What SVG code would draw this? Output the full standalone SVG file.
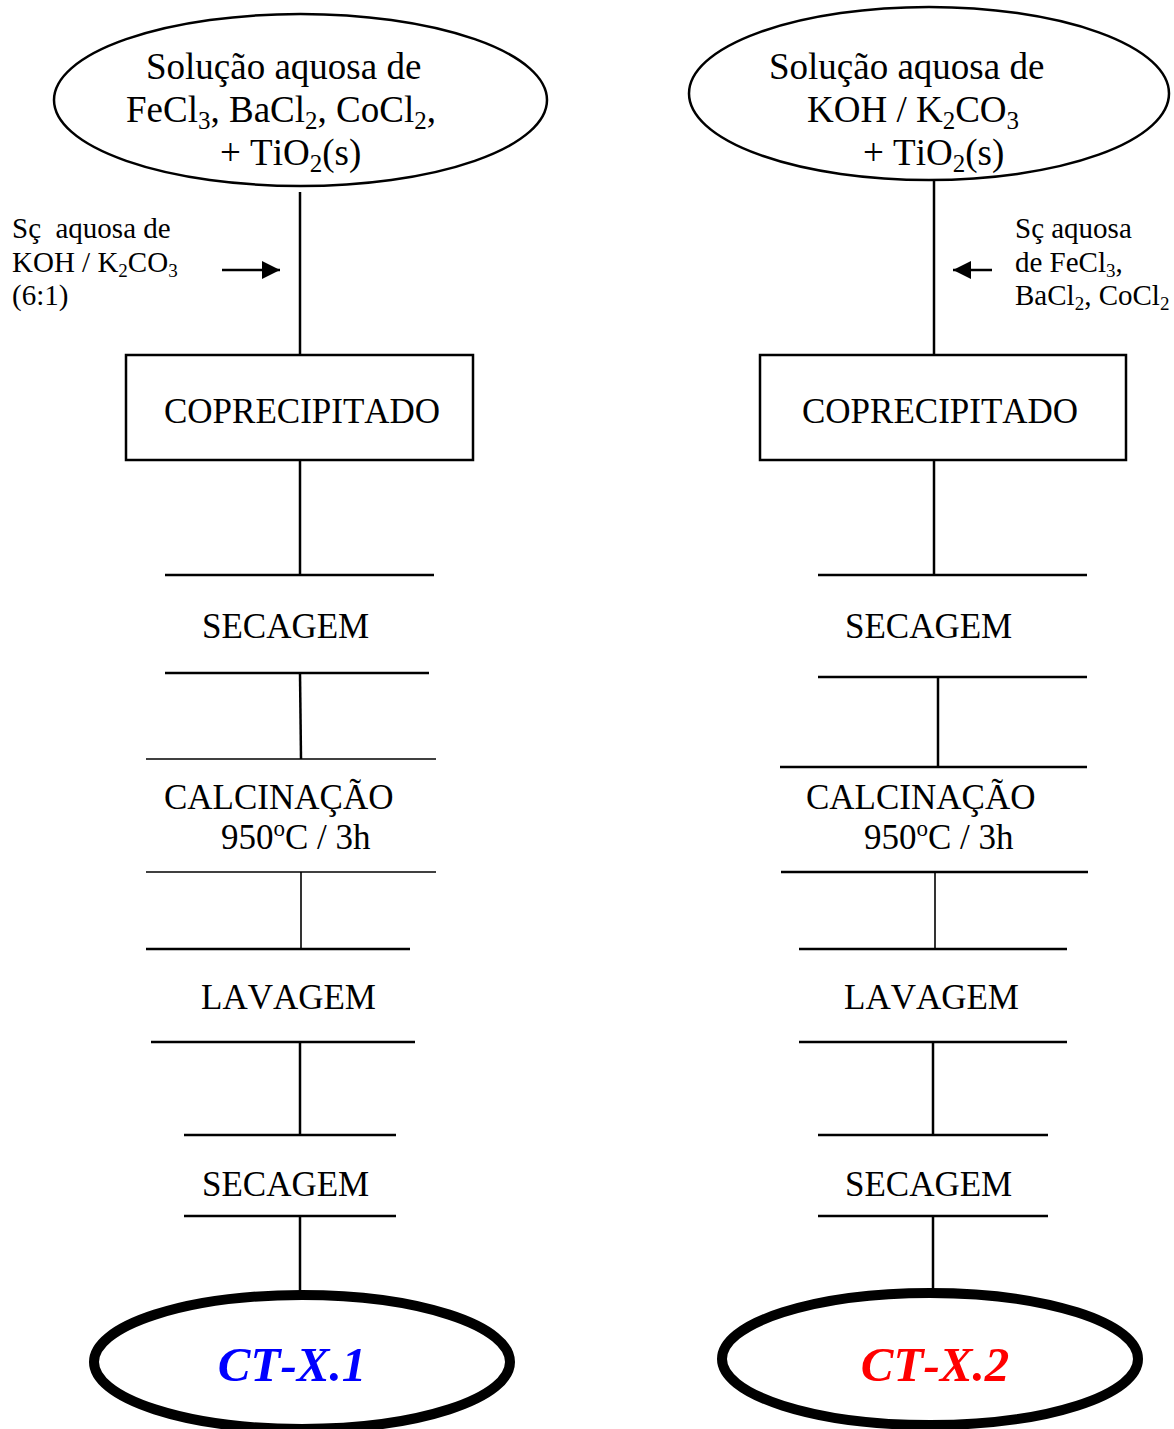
<svg xmlns="http://www.w3.org/2000/svg" width="1174" height="1429" viewBox="0 0 1174 1429">
<style>
text{font-family:"Liberation Serif","Times New Roman",serif;fill:#000;font-kerning:none}
.m{font-size:35px}
.t{font-size:37px}
.s{font-size:29px}
.sub{font-size:23px}
.tsub{font-size:25px}
.ssub{font-size:19px}
.res{font-size:49px;font-weight:bold;font-style:italic}
.ln{stroke:#000;stroke-width:2.5;fill:none}
.th{stroke:#000;stroke-width:1.6;fill:none}
.el{stroke:#000;stroke-width:2.5;fill:#fff}
.fin{stroke:#000;stroke-width:10;fill:#fff}
.box{stroke:#000;stroke-width:2.5;fill:#fff}
</style>
<defs>
<marker id="ah" viewBox="0 0 10 10" refX="10" refY="5" markerWidth="18" markerHeight="18" markerUnits="userSpaceOnUse" orient="auto">
<path d="M0,0 L10,5 L0,10 z" fill="#000"/>
</marker>
</defs>

<g id="connectors">
<line class="ln" x1="300" y1="192" x2="300" y2="355"/>
<line class="ln" x1="300" y1="460" x2="300" y2="575"/>
<line class="ln" x1="300" y1="673" x2="301" y2="759"/>
<line class="th" x1="301" y1="872" x2="301" y2="949"/>
<line class="ln" x1="300" y1="1042" x2="300" y2="1135"/>
<line class="ln" x1="300" y1="1216" x2="300" y2="1293"/>
<line class="ln" x1="222" y1="270" x2="280" y2="270" marker-end="url(#ah)"/>

<line class="ln" x1="934" y1="180" x2="934" y2="355"/>
<line class="ln" x1="934" y1="460" x2="934" y2="575"/>
<line class="ln" x1="938" y1="677" x2="938" y2="767"/>
<line class="th" x1="935" y1="872" x2="935" y2="949"/>
<line class="ln" x1="933" y1="1042" x2="933" y2="1135"/>
<line class="ln" x1="933" y1="1216" x2="933" y2="1290"/>
<line class="ln" x1="992" y1="270" x2="953" y2="270" marker-end="url(#ah)"/>
</g>

<g id="start1">
<ellipse class="el" cx="300.5" cy="100" rx="246.5" ry="86"/>
<text class="t" x="146" y="79">Solução aquosa de</text>
<text class="t" x="126" y="122">FeCl<tspan class="tsub" dy="7">3</tspan><tspan dy="-7">, BaCl</tspan><tspan class="tsub" dy="7">2</tspan><tspan dy="-7">, CoCl</tspan><tspan class="tsub" dy="7">2</tspan><tspan dy="-7">,</tspan></text>
<text class="t" x="220" y="165">+ TiO<tspan class="tsub" dy="7">2</tspan><tspan dy="-7">(s)</tspan></text>
</g>

<g id="reagent1">
<text class="s" x="12" y="238" xml:space="preserve">Sç  aquosa de</text>
<text class="s" x="12" y="272">KOH / K<tspan class="ssub" dy="5">2</tspan><tspan dy="-5">CO</tspan><tspan class="ssub" dy="5">3</tspan></text>
<text class="s" x="12" y="305">(6:1)</text>
</g>

<g id="copre1">
<rect class="box" x="126" y="355" width="347" height="105"/>
<text class="m" x="164" y="423">COPRECIPITADO</text>
</g>

<g id="secagem1">
<line class="ln" x1="165" y1="575" x2="434" y2="575"/>
<text class="m" x="202" y="638">SECAGEM</text>
<line class="ln" x1="165" y1="673" x2="429" y2="673"/>
</g>

<g id="calcinacao1">
<line class="th" x1="146" y1="759" x2="436" y2="759"/>
<text class="m" x="164" y="809">CALCINAÇÃO</text>
<text class="m" x="221" y="849">950<tspan class="sub" dy="-13">o</tspan><tspan dy="13">C / 3h</tspan></text>
<line class="th" x1="146" y1="872" x2="436" y2="872"/>
</g>

<g id="lavagem1">
<line class="ln" x1="146" y1="949" x2="410" y2="949"/>
<text class="m" x="201" y="1009">LAVAGEM</text>
<line class="ln" x1="151" y1="1042" x2="415" y2="1042"/>
</g>

<g id="secagem1b">
<line class="ln" x1="184" y1="1135" x2="396" y2="1135"/>
<text class="m" x="202" y="1196">SECAGEM</text>
<line class="ln" x1="184" y1="1216" x2="396" y2="1216"/>
</g>

<g id="result1">
<ellipse class="fin" cx="302" cy="1362" rx="208" ry="67"/>
<text class="res" x="292" y="1381" text-anchor="middle" style="fill:#0000ff">CT-X.1</text>
</g>

<g id="start2">
<ellipse class="el" cx="929" cy="93.5" rx="240" ry="86.5"/>
<text class="t" x="769" y="79">Solução aquosa de</text>
<text class="t" x="807" y="122">KOH / K<tspan class="tsub" dy="7">2</tspan><tspan dy="-7">CO</tspan><tspan class="tsub" dy="7">3</tspan></text>
<text class="t" x="863" y="165">+ TiO<tspan class="tsub" dy="7">2</tspan><tspan dy="-7">(s)</tspan></text>
</g>

<g id="reagent2">
<text class="s" x="1015" y="238">Sç aquosa</text>
<text class="s" x="1015" y="272">de FeCl<tspan class="ssub" dy="5">3</tspan><tspan dy="-5">,</tspan></text>
<text class="s" x="1015" y="305">BaCl<tspan class="ssub" dy="5">2</tspan><tspan dy="-5">, CoCl</tspan><tspan class="ssub" dy="5">2</tspan></text>
</g>

<g id="copre2">
<rect class="box" x="760" y="355" width="366" height="105"/>
<text class="m" x="802" y="423">COPRECIPITADO</text>
</g>

<g id="secagem2">
<line class="ln" x1="818" y1="575" x2="1087" y2="575"/>
<text class="m" x="845" y="638">SECAGEM</text>
<line class="ln" x1="818" y1="677" x2="1087" y2="677"/>
</g>

<g id="calcinacao2">
<line class="ln" x1="780" y1="767" x2="1087" y2="767"/>
<text class="m" x="806" y="809">CALCINAÇÃO</text>
<text class="m" x="864" y="849">950<tspan class="sub" dy="-13">o</tspan><tspan dy="13">C / 3h</tspan></text>
<line class="ln" x1="781" y1="872" x2="1088" y2="872"/>
</g>

<g id="lavagem2">
<line class="ln" x1="799" y1="949" x2="1067" y2="949"/>
<text class="m" x="844" y="1009">LAVAGEM</text>
<line class="ln" x1="799" y1="1042" x2="1067" y2="1042"/>
</g>

<g id="secagem2b">
<line class="ln" x1="818" y1="1135" x2="1048" y2="1135"/>
<text class="m" x="845" y="1196">SECAGEM</text>
<line class="ln" x1="818" y1="1216" x2="1048" y2="1216"/>
</g>

<g id="result2">
<ellipse class="fin" cx="930" cy="1359" rx="208" ry="66"/>
<text class="res" x="935" y="1381" text-anchor="middle" style="fill:#ff0000">CT-X.2</text>
</g>
</svg>
